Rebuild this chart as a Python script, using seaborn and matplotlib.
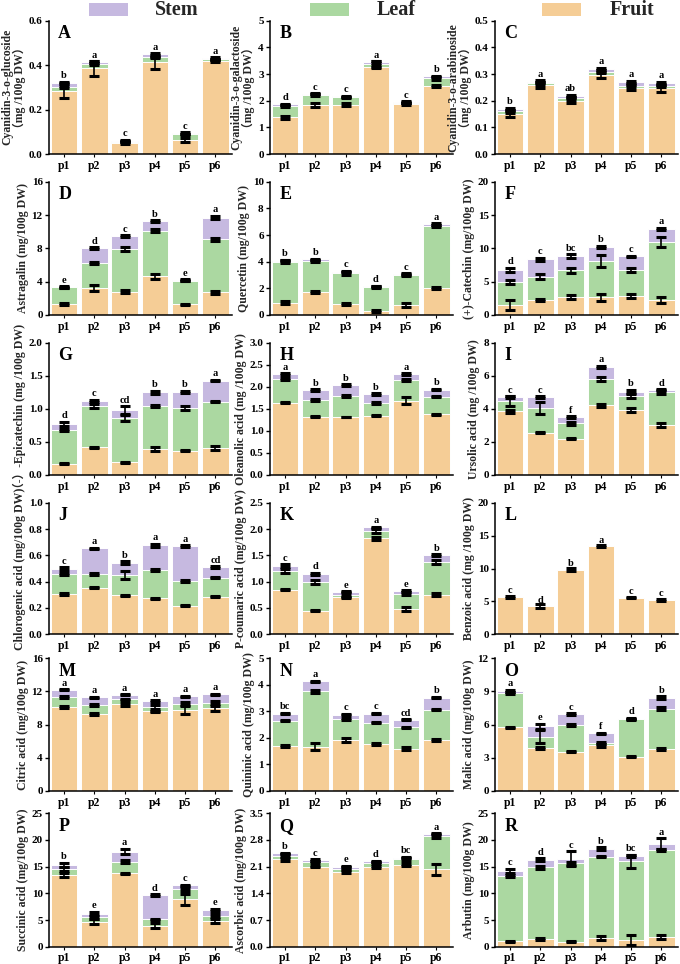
import numpy as np
import pandas as pd
import matplotlib
matplotlib.use("Agg")
import matplotlib.pyplot as plt
import seaborn as sns
from matplotlib.patches import Rectangle

sns.set_theme(style="ticks")
plt.rcParams['font.family'] = ['Liberation Serif', 'Noto Sans CJK SC', 'DejaVu Sans']
plt.rcParams['font.weight'] = 'bold'
plt.rcParams['axes.labelweight'] = 'bold'

sites = ["p1", "p2", "p3", "p4", "p5", "p6"]
organs = ["Stem", "Leaf", "Fruit"]
organ_colors = {"Stem": "#C6B9E0", "Leaf": "#ABD8A1", "Fruit": "#F5CD96"}

# ---------------- data (segment values, error values, significance letters) ----
A_fruit = [0.285, 0.385, 0.050, 0.413, 0.062, 0.418]
A_leaf = [0.017, 0.020, 0.006, 0.022, 0.027, 0.008]
A_stem = [0.018, 0.009, 0.004, 0.015, 0.005, 0.005]
A_err = [[0.035, 0.032, 0.003, 0.030, 0.008, 0.006], [0.003] * 6, [0.004, 0.004, 0.003, 0.004, 0.003, 0.004]]
A_sig = ["b", "a", "c", "a", "c", "a"]

B_fruit = [1.375, 1.825, 1.85, 3.275, 1.875, 2.55]
B_leaf = [0.425, 0.395, 0.27, 0.10, 0.05, 0.29]
B_stem = [0.07, 0.04, 0.05, 0.075, 0.025, 0.07]
B_err = [[0.05, 0.07, 0.05, 0.05, 0.03, 0.05], [0.05, 0.03, 0.03, 0.12, 0.03, 0.05], [0.02] * 6]
B_sig = ["d", "c", "c", "a", "c", "b"]

C_fruit = [0.150, 0.259, 0.200, 0.296, 0.249, 0.246]
C_leaf = [0.010, 0.006, 0.009, 0.013, 0.007, 0.010]
C_stem = [0.009, 0.006, 0.008, 0.010, 0.014, 0.009]
C_err = [[0.012, 0.012, 0.010, 0.010, 0.010, 0.012], [0.005] * 6, [0.005] * 6]
C_sig = ["b", "a", "ab", "a", "a", "a"]

D_fruit = [1.32, 3.28, 2.80, 4.68, 1.28, 2.72]
D_leaf = [2.0, 3.0, 5.08, 5.44, 2.84, 6.36]
D_stem = [0.06, 1.72, 1.6, 1.16, 0.08, 2.6]
D_err = [[0.1, 0.35, 0.2, 0.3, 0.1, 0.2], [0.05, 0.1, 0.25, 0.15, 0.05, 0.2], [0.08, 0.12, 0.1, 0.1, 0.08, 0.2]]
D_sig = ["e", "d", "c", "b", "e", "a"]

E_fruit = [0.92, 1.75, 0.85, 0.32, 0.72, 2.0]
E_leaf = [3.08, 2.30, 2.27, 1.78, 2.28, 4.65]
E_stem = [0.08, 0.13, 0.13, 0.05, 0.08, 0.17]
E_err = [[0.1, 0.08, 0.08, 0.06, 0.15, 0.08], [0.12, 0.08, 0.1, 0.05, 0.08, 0.08], [0.05] * 6]
E_sig = ["b", "b", "c", "d", "c", "a"]

F_fruit = [1.5, 2.25, 2.65, 2.65, 2.9, 2.25]
F_leaf = [3.5, 3.5, 4.05, 5.45, 3.85, 8.75]
F_stem = [1.8, 2.6, 2.15, 2.1, 2.05, 1.95]
F_err = [[0.8, 0.2, 0.3, 0.5, 0.3, 0.5], [0.3, 0.35, 0.35, 0.9, 0.35, 0.75], [0.3, 0.25, 0.25, 0.2, 0.1, 0.15]]
F_sig = ["d", "c", "bc", "b", "c", "a"]

G_fruit = [0.17, 0.42, 0.19, 0.39, 0.37, 0.41]
G_leaf = [0.51, 0.63, 0.67, 0.655, 0.65, 0.70]
G_stem = [0.09, 0.07, 0.12, 0.205, 0.235, 0.315]
G_err = [[0.01, 0.01, 0.01, 0.03, 0.01, 0.03], [0.02, 0.03, 0.04, 0.02, 0.03, 0.01], [0.03, 0.02, 0.06, 0.02, 0.02, 0.01]]
G_sig = ["d", "c", "cd", "b", "b", "a"]

H_fruit = [1.64, 1.32, 1.315, 1.34, 1.68, 1.375]
H_leaf = [0.54, 0.38, 0.475, 0.29, 0.47, 0.405]
H_stem = [0.11, 0.23, 0.25, 0.21, 0.14, 0.155]
H_err = [[0.01, 0.01, 0.01, 0.01, 0.08, 0.01], [0.02, 0.02, 0.03, 0.03, 0.02, 0.02], [0.015] * 6]
H_sig = ["a", "b", "b", "b", "a", "b"]

I_fruit = [3.85, 2.56, 2.2, 4.21, 3.93, 3.02]
I_leaf = [0.6, 1.49, 0.92, 1.59, 0.85, 2.0]
I_stem = [0.27, 0.65, 0.38, 0.75, 0.26, 0.12]
I_err = [[0.1, 0.05, 0.05, 0.08, 0.12, 0.1], [0.3, 0.35, 0.1, 0.12, 0.12, 0.1], [0.05, 0.05, 0.05, 0.05, 0.1, 0.05]]
I_sig = ["c", "c", "f", "a", "b", "d"]

J_fruit = [0.306, 0.354, 0.296, 0.273, 0.218, 0.286]
J_leaf = [0.149, 0.104, 0.154, 0.216, 0.19, 0.144]
J_stem = [0.045, 0.195, 0.094, 0.187, 0.263, 0.081]
J_err = [[0.005] * 6, [0.008, 0.008, 0.03, 0.005, 0.008, 0.005], [0.01, 0.005, 0.01, 0.01, 0.005, 0.005]]
J_sig = ["c", "a", "b", "a", "a", "cd"]

K_fruit = [0.848, 0.449, 0.709, 1.823, 0.48, 0.753]
K_leaf = [0.362, 0.551, 0.041, 0.139, 0.29, 0.614]
K_stem = [0.09, 0.146, 0.06, 0.068, 0.05, 0.139]
K_err = [[0.01, 0.01, 0.01, 0.03, 0.04, 0.03], [0.04, 0.04, 0.04, 0.03, 0.03, 0.04], [0.03, 0.02, 0.01, 0.01, 0.02, 0.01]]
K_sig = ["c", "d", "e", "a", "e", "b"]

L_fruit = [5.7, 4.25, 9.8, 13.4, 5.55, 5.25]
L_leaf = [0.0] * 6
L_stem = [0.0] * 6
L_err = [[0.15, 0.3, 0.25, 0.15, 0.08, 0.15], [0.0] * 6, [0.0] * 6]
L_sig = ["c", "d", "b", "a", "c", "c"]

M_fruit = [10.15, 9.3, 10.45, 9.6, 9.8, 9.95]
M_leaf = [1.2, 1.05, 0.6, 0.55, 0.75, 0.7]
M_stem = [0.85, 0.95, 0.55, 0.7, 0.85, 1.0]
M_err = [[0.1, 0.1, 0.15, 0.1, 0.5, 0.3], [0.08, 0.08, 0.1, 0.25, 0.2, 0.2], [0.08] * 6]
M_sig = ["a", "a", "a", "a", "a", "a"]

N_fruit = [1.70, 1.67, 1.92, 1.78, 1.6, 1.92]
N_leaf = [0.95, 2.08, 0.79, 0.8, 0.8, 1.14]
N_stem = [0.27, 0.38, 0.17, 0.34, 0.28, 0.46]
N_err = [[0.05, 0.12, 0.06, 0.04, 0.04, 0.05], [0.02, 0.07, 0.05, 0.03, 0.02, 0.02], [0.02] * 6]
N_sig = ["bc", "a", "c", "c", "cd", "b"]

O_fruit = [5.75, 3.9, 3.56, 4.12, 3.08, 3.8]
O_leaf = [3.1, 1.0, 2.41, 0.23, 3.4, 3.65]
O_stem = [0.2, 0.95, 0.98, 0.87, 0.07, 1.0]
O_err = [[0.05, 0.1, 0.06, 0.15, 0.04, 0.1], [0.1, 0.6, 0.12, 0.1, 0.05, 0.12], [0.1, 0.25, 0.08, 0.05, 0.05, 0.12]]
O_sig = ["a", "e", "c", "f", "d", "b"]

P_fruit = [13.45, 4.7, 13.75, 3.95, 8.9, 4.8]
P_leaf = [1.05, 0.8, 2.2, 1.15, 1.85, 1.0]
P_stem = [0.85, 0.65, 1.85, 4.6, 0.75, 1.1]
P_err = [[0.4, 0.4, 0.1, 0.5, 1.0, 0.3], [0.4, 0.4, 0.3, 0.15, 0.3, 0.3], [0.4, 0.4, 0.5, 0.15, 0.15, 0.2]]
P_sig = ["b", "e", "a", "d", "c", "e"]

Q_fruit = [2.29, 2.10, 1.97, 2.10, 2.14, 2.03]
Q_leaf = [0.10, 0.13, 0.08, 0.09, 0.15, 0.88]
Q_stem = [0.06, 0.045, 0.05, 0.05, 0.05, 0.05]
Q_err = [[0.04, 0.02, 0.03, 0.03, 0.02, 0.15], [0.03, 0.03, 0.03, 0.03, 0.03, 0.05], [0.02] * 6]
Q_sig = ["b", "c", "e", "d", "bc", "a"]

R_fruit = [1.06, 1.44, 0.94, 1.69, 1.25, 1.75]
R_leaf = [12.19, 13.46, 14.66, 15.21, 14.75, 16.4]
R_stem = [0.95, 1.4, 0.85, 1.45, 1.05, 1.15]
R_err = [[0.1, 0.15, 0.1, 0.4, 0.9, 0.4], [0.25, 0.3, 0.3, 0.15, 1.2, 0.2], [0.4, 0.3, 1.4, 0.3, 0.2, 1.0]]
R_sig = ["c", "d", "c", "b", "bc", "a"]

panel_letters = list("ABCDEFGHIJKLMNOPQR")
ylabels = [
    "Cyanidin-3-o-glucoside\n（mg /100g DW）",
    "Cyanidin-3-o-galactoside\n（mg /100g DW）",
    "Cyanidin-3-o-arabinoside\n（mg /100g DW）",
    "Astragalin (mg/100g DW)",
    "Quercetin (mg/100g DW)",
    "(+)-Catechin (mg/100g DW)",
    "（-）-Epicatechin (mg /100g DW)",
    "Oleanolic acid (mg /100g DW)",
    "Ursolic acid (mg /100g DW)",
    "Chlorogenic acid (mg/100g DW)",
    "P-coumaric acid (mg/100g DW)",
    "Benzoic acid (mg /100g DW)",
    "Citric acid (mg/100g DW)",
    "Quininic acid (mg/100g DW)",
    "Malic acid (mg/100g DW)",
    "Succinic acid (mg/100g DW)",
    "Ascorbic acid (mg/100g DW)",
    "Arbutin (mg/100g DW)",
]
ymax = [0.6, 5, 0.5, 16, 10, 20, 2.0, 3.0, 8, 1.0, 2.5, 20, 16, 5, 12, 25, 3.5, 25]
ystep = [0.2, 1, 0.1, 4, 2, 5, 0.5, 0.5, 2, 0.2, 0.5, 5, 4, 1, 3, 5, 0.7, 5]
ydec = [1, 0, 1, 0, 0, 0, 1, 1, 0, 1, 1, 0, 0, 0, 0, 0, 1, 0]

g = globals()
panels = []
for L in panel_letters:
    panels.append((g[L + "_fruit"], g[L + "_leaf"], g[L + "_stem"], g[L + "_err"], g[L + "_sig"]))

# ---------------- layout ----------------
W, H = 680, 964
fig = plt.figure(figsize=(W / 100, H / 100), dpi=100)
col_left = [49, 270, 495]
ax_w = 183
row_top = [20.7, 181.7, 342.7, 502.7, 658.3, 813.3]
row_bot = [154, 315, 475, 634.3, 791, 946.7]

for idx, (fruit, leaf, stem, err, sig) in enumerate(panels):
    r, c = divmod(idx, 3)
    left = col_left[c] / W
    bottom = 1 - row_bot[r] / H
    height = (row_bot[r] - row_top[r]) / H
    ax = fig.add_axes([left, bottom, ax_w / W, height])

    fruit = np.array(fruit)
    leaf_top = fruit + np.array(leaf)
    total = leaf_top + np.array(stem)
    df = pd.DataFrame({"site": sites, "Fruit": fruit, "Leaf": leaf_top, "Stem": total})
    for organ in organs:  # Stem (total) first, then Leaf, then Fruit on top
        sns.barplot(data=df, x="site", y=organ, order=sites, color=organ_colors[organ],
                    saturation=1, width=0.88, edgecolor="white", linewidth=0.7, ax=ax)
    tops = [fruit, leaf_top, total]
    for k in range(3):
        e = np.array(err[k])
        m = e > 0
        xs = np.arange(len(sites))[m]
        ax.errorbar(xs, tops[k][m], yerr=e[m], fmt="none", ecolor="black",
                    elinewidth=1.2, capsize=3.8, capthick=2.2, zorder=5)
    top_err = np.array(err[2])
    for i, s in enumerate(sig):
        yy = total[i] + top_err[i] + ymax[idx] * 0.012
        ax.text(i, yy, s, ha="center", va="bottom", fontsize=7.5, fontweight="bold",
                color="black", zorder=6)

    ax.set_xlim(-0.5, 5.55)
    ax.set_ylim(0, ymax[idx])
    ticks = np.round(np.arange(0, ymax[idx] + ystep[idx] / 2, ystep[idx]), 3)
    ax.set_yticks(ticks)
    ax.set_yticklabels([f"{t:.{ydec[idx]}f}" for t in ticks])
    ax.set_xlabel("")
    ax.set_ylabel(ylabels[idx], fontsize=8.5, fontweight="bold", labelpad=2,
                  linespacing=1.0)
    sns.despine(ax=ax)
    for sp in ["left", "bottom"]:
        ax.spines[sp].set_linewidth(1.1)
        ax.spines[sp].set_color("black")
    ax.tick_params(axis="y", labelsize=8, length=3, width=1.0, pad=1.5, colors="black")
    ax.tick_params(axis="x", labelsize=8.5, length=2, width=0.8, pad=2, colors="black")
    for t in ax.get_xticklabels() + ax.get_yticklabels():
        t.set_fontweight("bold")
    ax.text(0.05, 0.965, panel_letters[idx], transform=ax.transAxes, ha="left", va="top",
            fontsize=13, fontweight="bold", color="black")

# ---------------- legend ----------------
legend_items = [("Stem", 89, 155), ("Leaf", 310, 377), ("Fruit", 542, 610)]
for name, px, tx in legend_items:
    fig.add_artist(Rectangle((px / W, 1 - 16 / H), 39 / W, 13 / H, transform=fig.transFigure,
                             facecolor=organ_colors[name], edgecolor="none"))
    fig.text(tx / W, 1 - 10 / H, name, fontsize=14.5, fontweight="bold", va="center", ha="left")

fig.savefig("out.png", dpi=100)
